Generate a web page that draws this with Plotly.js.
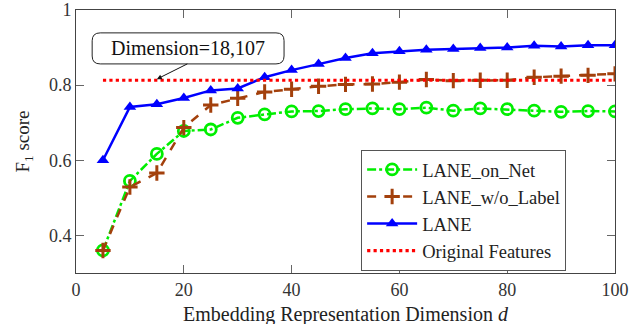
<!DOCTYPE html>
<html><head><meta charset="utf-8">
<script src="https://cdn.plot.ly/plotly-3.0.1.min.js"></script>
<style>html,body{margin:0;padding:0;background:#fff}#plot{width:638px;height:324px}</style>
</head><body><div id="plot"></div>
<script>
const dims = [5,10,15,20,25,30,35,40,45,50,55,60,65,70,75,80,85,90,95,100];
const laneOnNet = [0.360,0.545,0.617,0.678,0.682,0.713,0.722,0.730,0.731,0.736,0.738,0.736,0.740,0.732,0.738,0.736,0.732,0.729,0.731,0.730];
const laneWoLabel = [0.360,0.529,0.566,0.687,0.747,0.765,0.782,0.789,0.797,0.802,0.803,0.808,0.815,0.812,0.813,0.813,0.821,0.824,0.826,0.830];
const lane = [0.600,0.742,0.749,0.766,0.786,0.791,0.821,0.840,0.856,0.872,0.885,0.890,0.894,0.896,0.899,0.900,0.905,0.903,0.906,0.906];
const origFeatX = [5,100];
const origFeat = [0.813,0.813];
const seriesNames = ['LANE_on_Net','LANE_w/o_Label','LANE','Original Features'];
const annText = 'Dimension=18,107';
const xTitle = 'Embedding Representation Dimension <i>d</i>';
const yTitle = 'F<sub>1</sub> score';

const FONT = "'Liberation Serif', 'Times New Roman', serif";
const traces = [
  {x:dims,y:laneOnNet,name:seriesNames[0],mode:'lines+markers',
   line:{color:'#00ee00',width:2.5,dash:'dashdot'},
   marker:{symbol:'circle-open',size:11,color:'#00ee00',line:{width:2.8,color:'#00ee00'}}},
  {x:dims,y:laneWoLabel,name:seriesNames[1],mode:'lines+markers',
   line:{color:'#a3400c',width:2.5,dash:'dash'},
   marker:{symbol:'cross-thin',size:11,color:'#a3400c',line:{width:3,color:'#a3400c'}}},
  {x:dims,y:lane,name:seriesNames[2],mode:'lines+markers',
   line:{color:'#0000ff',width:2.5},
   marker:{symbol:'triangle-up',size:11,color:'#0000ff'}},
  {x:origFeatX,y:origFeat,name:seriesNames[3],mode:'lines',
   line:{color:'#ff0000',width:3.2,dash:'dot'}}
];
const ax = {showgrid:false,zeroline:false,showline:true,linecolor:'#444',linewidth:1,mirror:'ticks',
  ticks:'inside',ticklen:8,tickcolor:'#666',tickfont:{family:FONT,size:18,color:'#333'}};
const layout = {
  width:638,height:324,margin:{l:76,r:23,t:10,b:51},
  paper_bgcolor:'#fff',plot_bgcolor:'#fff',showlegend:true,
  font:{family:FONT,color:'#222'},
  xaxis:Object.assign({},ax,{range:[0,100],tickvals:[0,20,40,60,80,100]}),
  yaxis:Object.assign({},ax,{range:[0.3,1.0],tickvals:[0.4,0.6,0.8,1],ticktext:['0.4','0.6','0.8','1'],
    title:{text:yTitle,font:{family:FONT,size:19},standoff:14}}),
  legend:{x:0.529,y:0.468,xanchor:'left',yanchor:'top',bgcolor:'#fff',bordercolor:'#555',borderwidth:1,
    font:{family:FONT,size:18.5,color:'#222'},tracegroupgap:0,itemwidth:50},
  shapes:[{type:'path',xref:'paper',yref:'paper',layer:'below',line:{color:'#222',width:1},
    path:'M 0.045 0.795 L 0.371 0.795 Q 0.386 0.795 0.386 0.825 L 0.386 0.883 Q 0.386 0.913 0.371 0.913 L 0.045 0.913 Q 0.030 0.913 0.030 0.883 L 0.030 0.825 Q 0.030 0.795 0.045 0.795 Z'}],
  annotations:[
    {xref:'paper',yref:'paper',x:0.208,y:0.854,xanchor:'center',yanchor:'middle',text:annText,showarrow:false,
     font:{family:FONT,size:20,color:'#111'}},
    {xref:'x',yref:'y',x:15,y:0.816,ax:32,ay:-16,text:'',showarrow:true,arrowhead:2,arrowsize:1,
     arrowwidth:1,arrowcolor:'#111',standoff:0},
    {xref:'paper',yref:'paper',x:0.5,y:-0.158,xanchor:'center',yanchor:'middle',text:xTitle,showarrow:false,
     font:{family:FONT,size:20,color:'#222'}}
  ]
};
Plotly.newPlot('plot',traces,layout,{displayModeBar:false,staticPlot:true});
</script></body></html>
